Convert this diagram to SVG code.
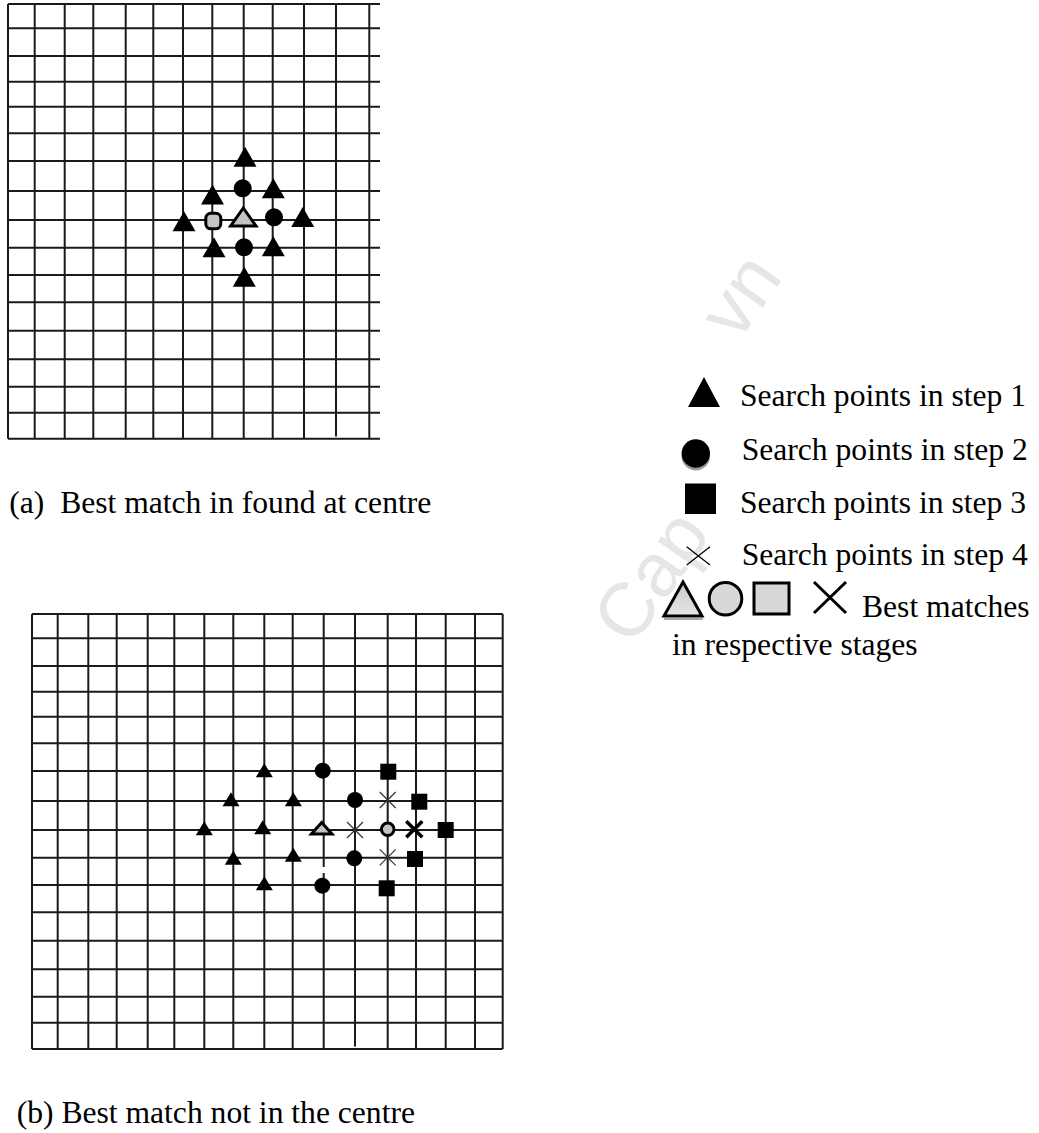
<svg xmlns="http://www.w3.org/2000/svg" width="1039" height="1133" viewBox="0 0 1039 1133">
<style>
.g line{stroke:#1a1a1a;stroke-width:2}
.txt{font-family:"Liberation Serif","Times New Roman",serif;font-size:31.6px;fill:#000}
.wm{font-family:"Liberation Sans",Arial,sans-serif;font-size:76px;fill:#e6e6e6}
.best{fill:#c4c4c4;stroke:#000;stroke-width:3}
.x4{stroke:#333;stroke-width:1.2}
</style>
<defs>
<path id="triA" d="M0,-10 L11.5,10 L-11.5,10 Z" fill="#000"/>
<path id="triB" d="M0,-7 L8.5,7 L-8.5,7 Z" fill="#000"/>
<rect id="sqB" x="-8" y="-8" width="16" height="16" fill="#000"/>
<path id="xB" d="M-8,-8 L8,8 M-8,8 L8,-8" fill="none"/>
<linearGradient id="gtri" x1="0" y1="0" x2="0" y2="1">
<stop offset="0" stop-color="#c8c8c8"/>
<stop offset="1" stop-color="#e6e6e6"/>
</linearGradient>
</defs>
<rect width="1039" height="1133" fill="#fff"/>

<g id="watermark">
<text class="wm" transform="translate(632,648) rotate(-55)">Cap</text>
<text class="wm" transform="translate(738,343) rotate(-55)">vn</text>
</g>

<g id="grid-a" class="g">
<line x1="8" y1="4" x2="380" y2="4"/>
<line x1="8" y1="28.3" x2="380" y2="28.3"/>
<line x1="8" y1="56" x2="380" y2="56"/>
<line x1="8" y1="81.7" x2="380" y2="81.7"/>
<line x1="8" y1="106.7" x2="380" y2="106.7"/>
<line x1="8" y1="133.3" x2="380" y2="133.3"/>
<line x1="8" y1="161" x2="380" y2="161"/>
<line x1="8" y1="191" x2="380" y2="191"/>
<line x1="8" y1="220" x2="380" y2="220"/>
<line x1="8" y1="247.7" x2="380" y2="247.7"/>
<line x1="8" y1="275" x2="380" y2="275"/>
<line x1="8" y1="302.3" x2="380" y2="302.3"/>
<line x1="8" y1="330.7" x2="380" y2="330.7"/>
<line x1="8" y1="359.3" x2="380" y2="359.3"/>
<line x1="8" y1="386.7" x2="380" y2="386.7"/>
<line x1="8" y1="412.7" x2="380" y2="412.7"/>
<line x1="8" y1="438.7" x2="380" y2="438.7"/>
<line x1="8" y1="4" x2="8" y2="438.7"/>
<line x1="34.7" y1="4" x2="34.7" y2="438.7"/>
<line x1="64.7" y1="4" x2="64.7" y2="438.7"/>
<line x1="93.3" y1="4" x2="93.3" y2="438.7"/>
<line x1="125.7" y1="4" x2="125.7" y2="438.7"/>
<line x1="153.3" y1="4" x2="153.3" y2="438.7"/>
<line x1="183" y1="4" x2="183" y2="438.7"/>
<line x1="212.3" y1="4" x2="212.3" y2="438.7"/>
<line x1="243.7" y1="4" x2="243.7" y2="438.7"/>
<line x1="272.7" y1="4" x2="272.7" y2="438.7"/>
<line x1="304" y1="4" x2="304" y2="438.7"/>
<line x1="336" y1="4" x2="336" y2="436.5"/>
<line x1="369.3" y1="4" x2="369.3" y2="438.7"/>
</g>

<g id="points-a">
<use href="#triA" x="245" y="156.7"/>
<use href="#triA" x="212.5" y="194.5"/>
<use href="#triA" x="273.3" y="188.3"/>
<use href="#triA" x="184" y="221.2"/>
<use href="#triA" x="302.7" y="217"/>
<use href="#triA" x="214" y="247.3"/>
<use href="#triA" x="273.3" y="246.3"/>
<use href="#triA" x="244.3" y="276.7"/>
<circle cx="242.7" cy="188.3" r="9"/>
<circle cx="274" cy="217.3" r="9"/>
<circle cx="244" cy="247.3" r="9"/>
<rect class="best" x="205.8" y="213.3" width="15" height="15.5" rx="5"/>
<path class="best" d="M243.3,208 L256,226 L230.6,226 Z" stroke-width="3.5"/>
</g>

<text id="caption-a" class="txt" x="9.3" y="512.7" xml:space="preserve">(a)  Best match in found at centre</text>

<g id="grid-b" class="g">
<line x1="32" y1="614" x2="502.7" y2="614"/>
<line x1="32" y1="638.3" x2="502.7" y2="638.3"/>
<line x1="32" y1="666" x2="502.7" y2="666"/>
<line x1="32" y1="691.7" x2="502.7" y2="691.7"/>
<line x1="32" y1="716.7" x2="502.7" y2="716.7"/>
<line x1="32" y1="743.3" x2="502.7" y2="743.3"/>
<line x1="32" y1="771" x2="502.7" y2="771"/>
<line x1="32" y1="801" x2="502.7" y2="801"/>
<line x1="32" y1="830" x2="502.7" y2="830"/>
<line x1="32" y1="857.7" x2="502.7" y2="857.7"/>
<line x1="32" y1="885" x2="502.7" y2="885"/>
<line x1="32" y1="912.3" x2="502.7" y2="912.3"/>
<line x1="32" y1="940.7" x2="502.7" y2="940.7"/>
<line x1="32" y1="969.3" x2="502.7" y2="969.3"/>
<line x1="32" y1="996.7" x2="502.7" y2="996.7"/>
<line x1="32" y1="1022.7" x2="502.7" y2="1022.7"/>
<line x1="32" y1="1049" x2="502.7" y2="1049"/>
<line x1="32" y1="614" x2="32" y2="1049"/>
<line x1="57.7" y1="614" x2="57.7" y2="1049"/>
<line x1="88.3" y1="614" x2="88.3" y2="1049"/>
<line x1="116.7" y1="614" x2="116.7" y2="1049"/>
<line x1="147.7" y1="614" x2="147.7" y2="1049"/>
<line x1="174.3" y1="614" x2="174.3" y2="1049"/>
<line x1="204.3" y1="614" x2="204.3" y2="1049"/>
<line x1="233.3" y1="614" x2="233.3" y2="1049"/>
<line x1="264.3" y1="614" x2="264.3" y2="1049"/>
<line x1="292.7" y1="614" x2="292.7" y2="1049"/>
<line x1="323.7" y1="614" x2="323.7" y2="867"/>
<line x1="323.7" y1="873" x2="323.7" y2="1049"/>
<line x1="355" y1="614" x2="355" y2="1046.5"/>
<line x1="387.7" y1="614" x2="387.7" y2="1049"/>
<line x1="416" y1="614" x2="416" y2="1049"/>
<line x1="445.7" y1="614" x2="445.7" y2="1049"/>
<line x1="475" y1="614" x2="475" y2="1049"/>
<line x1="502.7" y1="614" x2="502.7" y2="1049"/>
</g>

<g id="points-b">
<use href="#triB" x="264.3" y="770.3"/>
<use href="#triB" x="231" y="799.2"/>
<use href="#triB" x="293.3" y="799.2"/>
<use href="#triB" x="204.3" y="828.3"/>
<use href="#triB" x="262.7" y="827.2"/>
<use href="#triB" x="233.3" y="857.8"/>
<use href="#triB" x="293.3" y="854.8"/>
<use href="#triB" x="264.3" y="883.3"/>
<circle cx="322.7" cy="770.7" r="8"/>
<circle cx="355" cy="800" r="8"/>
<circle cx="354.3" cy="858.3" r="8"/>
<circle cx="322.3" cy="885.7" r="8"/>
<use href="#sqB" x="388.3" y="771.7"/>
<use href="#sqB" x="419.3" y="801.7"/>
<use href="#sqB" x="445.7" y="830"/>
<use href="#sqB" x="415" y="859"/>
<use href="#sqB" x="386.7" y="888.3"/>
<use href="#xB" class="x4" x="387.7" y="800"/>
<use href="#xB" class="x4" x="355" y="830"/>
<use href="#xB" class="x4" x="387.7" y="857.3"/>
<path class="best" d="M321.7,822.5 L332,834 L311.4,834 Z"/>
<circle class="best" cx="387.7" cy="829.3" r="6.3" stroke-width="2.6"/>
<use href="#xB" x="414.3" y="829.3" stroke="#000" stroke-width="3.5"/>
</g>

<text id="caption-b" class="txt" x="16.7" y="1122.7">(b) Best match not in the centre</text>

<g id="legend">
<g id="legend-step1">
<path d="M704,377 L720,407 L688,407 Z" fill="#000"/>
<text class="txt" x="740" y="406">Search points in step 1</text>
</g>
<g id="legend-step2">
<circle cx="695.8" cy="456.3" r="14.2" fill="#9a9a9a"/>
<circle cx="695.8" cy="453.5" r="14.2" fill="#000"/>
<text class="txt" x="741.7" y="460">Search points in step 2</text>
</g>
<g id="legend-step3">
<rect x="685" y="483.5" width="31" height="30.5" fill="#000"/>
<text class="txt" x="740" y="513">Search points in step 3</text>
</g>
<g id="legend-step4">
<path d="M686.7,546.7 L710,565 M686.7,565 L710,546.7" stroke="#000" stroke-width="1.3" fill="none"/>
<text class="txt" x="741.7" y="565">Search points in step 4</text>
</g>
<g id="legend-best">
<line x1="664" y1="619" x2="703" y2="619" stroke="#aaa" stroke-width="2"/>
<path d="M683,582 L702,616 L664,616 Z" fill="url(#gtri)" stroke="#000" stroke-width="3"/>
<circle cx="725.5" cy="598.7" r="16.3" fill="#d8d8d8" stroke="#000" stroke-width="3"/>
<rect x="754" y="583" width="35" height="31" fill="#d8d8d8" stroke="#000" stroke-width="3"/>
<path d="M814,582 L846,613 M814,613 L846,582" stroke="#000" stroke-width="3" fill="none"/>
<text class="txt" x="862" y="617">Best matches</text>
<text class="txt" x="672" y="655">in respective stages</text>
</g>
</g>
</svg>
